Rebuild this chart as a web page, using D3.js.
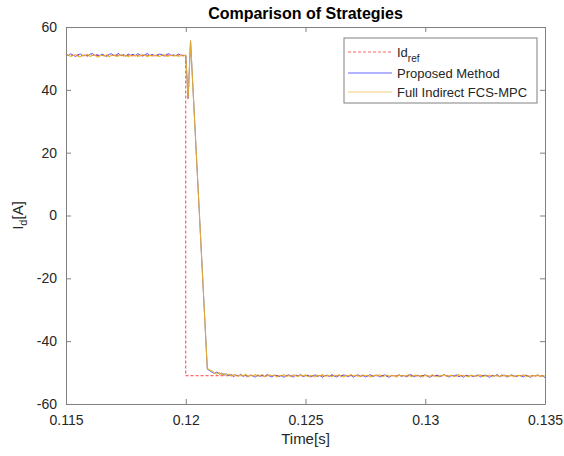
<!DOCTYPE html>
<html>
<head>
<meta charset="utf-8">
<script src="https://cdn.jsdelivr.net/npm/d3@7/dist/d3.min.js"></script>
<style>
  html, body { margin: 0; padding: 0; background: #fff; }
  svg { display: block; font-family: Arial, "Liberation Sans", Helvetica, sans-serif; }
</style>
</head>
<body>
<svg id="chart" width="564" height="456"></svg>
<script>
// d-axis current step response, sampled every 0.1 ms from 0.115 s to 0.135 s
const sampleStart = 0.115;
const samplePeriod = 0.0001;

// Reference current Id_ref (step from +51 A to -51 A at 0.12 s)
const refTime = [0.115, 0.12, 0.12, 0.135];
const refValue = [51, 51, -51, -51];

// Proposed method
const proposedId = [
  51.3, 50.9, 51.5, 51.0, 50.6, 51.2, 51.4, 50.8, 51.1, 50.7,
  51.3, 51.6, 50.9, 51.2, 50.8, 51.4, 51.0, 50.6, 51.3, 51.5,
  50.9, 51.1, 51.6, 50.8, 51.2, 50.7, 51.4, 51.0, 51.3, 50.8,
  51.5, 51.1, 50.7, 51.2, 51.6, 50.9, 51.3, 50.8, 51.0, 51.4,
  51.2, 50.7, 51.3, 51.5, 50.9, 51.1, 50.8, 51.4, 51.0, 50.9,
  51.0,
  37.2, 55.6, 40.7, 25.8, 10.9, -4.0, -18.9, -33.8, -48.9,
  -49.4, -49.9, -50.3, -49.8, -50.5, -50.2, -50.8, -50.4, -51.0, -50.6,
  -51.3, -50.7, -51.1, -50.5, -51.2, -50.9, -51.4, -50.8, -51.0, -51.5,
  -50.7, -51.2, -50.9, -51.3, -50.6, -51.1, -51.4, -50.8, -51.0, -51.3,
  -50.9, -51.5, -51.0, -50.7, -51.2, -51.4, -50.8, -51.1, -50.6, -51.3,
  -51.0, -50.8, -51.4, -51.1, -50.7, -51.2, -50.9, -51.5, -51.0, -50.8,
  -51.3, -50.6, -51.1, -51.4, -50.9, -51.2, -50.7, -51.0, -51.3, -50.8,
  -51.5, -51.0, -50.7, -51.2, -50.9, -51.4, -51.1, -50.6, -51.3, -51.0,
  -50.8, -51.4, -51.1, -50.7, -51.2, -51.5, -50.9, -51.0, -51.3, -50.7,
  -51.2, -50.9, -51.4, -51.0, -50.6, -51.3, -51.1, -50.8, -51.4, -51.0,
  -50.7, -51.2, -51.5, -50.9, -51.1, -50.8, -51.3, -51.0, -50.6, -51.2,
  -51.4, -50.9, -51.1, -50.7, -51.3, -51.0, -51.5, -50.8, -51.2, -50.9,
  -51.3, -51.1, -50.7, -51.4, -51.0, -50.8, -51.2, -51.5, -50.9, -51.1,
  -50.6, -51.3, -51.0, -50.8, -51.4, -51.2, -50.7, -51.1, -51.3, -50.9,
  -51.0, -51.4, -50.8, -51.2, -51.5, -50.9, -51.1, -50.7, -51.3, -51.0,
  -51.6
];

// Full indirect FCS-MPC
const fullIndirectId = [
  50.8, 51.1, 50.6, 50.9, 51.2, 50.7, 50.5, 51.0, 50.8, 51.3,
  50.6, 50.9, 51.1, 50.4, 50.8, 51.0, 50.7, 51.2, 50.5, 50.9,
  51.1, 50.6, 50.8, 51.2, 50.7, 51.0, 50.5, 50.9, 50.7, 51.1,
  50.6, 50.8, 51.2, 50.9, 50.5, 51.0, 50.7, 51.1, 50.8, 50.6,
  50.9, 51.2, 50.6, 50.8, 51.0, 50.7, 51.1, 50.6, 50.9, 50.8,
  51.0,
  37.2, 55.6, 40.7, 25.8, 10.9, -4.0, -18.9, -33.8, -48.7,
  -49.1, -49.6, -50.1, -50.5, -50.0, -50.7, -50.3, -50.9, -50.5, -51.1,
  -50.6, -50.9, -51.2, -50.7, -51.0, -50.5, -51.3, -50.8, -51.1, -50.6,
  -51.2, -50.9, -50.6, -51.3, -51.0, -50.7, -51.1, -50.8, -51.4, -50.9,
  -51.1, -50.6, -51.2, -50.9, -51.3, -50.7, -51.0, -51.2, -50.8, -51.1,
  -50.7, -51.3, -50.9, -51.0, -51.4, -50.8, -51.1, -50.6, -51.2, -50.9,
  -51.0, -51.3, -50.8, -51.1, -50.7, -51.2, -51.4, -50.9, -51.0, -50.6,
  -51.2, -50.8, -51.1, -51.3, -50.7, -51.0, -50.9, -51.4, -51.1, -50.8,
  -51.0, -50.7, -51.3, -51.1, -50.8, -51.2, -50.9, -51.0, -51.4, -50.7,
  -51.1, -50.9, -51.2, -50.6, -51.3, -51.0, -50.8, -51.1, -50.9, -51.4,
  -50.8, -51.0, -51.2, -50.7, -51.1, -51.3, -50.9, -51.0, -50.7, -51.2,
  -51.0, -50.8, -51.3, -51.1, -50.6, -51.2, -50.9, -51.1, -51.4, -50.8,
  -51.0, -51.2, -50.9, -50.7, -51.3, -51.0, -51.1, -50.8, -51.2, -51.0,
  -50.9, -51.3, -50.7, -51.1, -51.0, -51.2, -50.8, -51.3, -51.0, -50.9,
  -51.1, -50.7, -51.2, -51.0, -51.3, -50.9, -51.1, -50.8, -51.2, -51.0,
  -51.1
];

const xTicks = [0.115, 0.12, 0.125, 0.13, 0.135];
const yTicks = [-60, -40, -20, 0, 20, 40, 60];
const legendLabels = ["Id", "Proposed Method", "Full Indirect FCS-MPC"];

const colors = { ref: "#ff0000", proposed: "#0000ff", full: "#edb120" };

const svg = d3.select("#chart");
const plot = { left: 66, right: 545, top: 27, bottom: 404 };

const x = d3.scaleLinear().domain([0.115, 0.135]).range([plot.left, plot.right]);
const y = d3.scaleLinear().domain([-60, 60]).range([plot.bottom, plot.top]);

const timeAt = i => sampleStart + i * samplePeriod;

svg.append("defs").append("clipPath").attr("id", "plot-clip")
  .append("rect")
  .attr("x", plot.left).attr("y", plot.top)
  .attr("width", plot.right - plot.left).attr("height", plot.bottom - plot.top);

const textColor = "#262626";
const axisColor = "#808080";

// Axes with inward ticks on all four sides
const tickLen = 5;
const xAxisBottom = d3.axisBottom(x).tickValues(xTicks).tickSizeInner(-tickLen).tickSizeOuter(0)
  .tickFormat(d => String(+d.toFixed(3))).tickPadding(11);
const xAxisTop = d3.axisTop(x).tickValues(xTicks).tickSizeInner(-tickLen).tickSizeOuter(0).tickFormat("");
const yAxisLeft = d3.axisLeft(y).tickValues(yTicks).tickSizeInner(-tickLen).tickSizeOuter(0)
  .tickFormat(d => String(d)).tickPadding(9);
const yAxisRight = d3.axisRight(y).tickValues(yTicks).tickSizeInner(-tickLen).tickSizeOuter(0).tickFormat("");

function styleAxis(g) {
  g.select(".domain").attr("stroke", axisColor).attr("stroke-width", 1);
  g.selectAll(".tick line").attr("stroke", axisColor).attr("stroke-width", 1);
  g.selectAll(".tick text").attr("fill", textColor).style("font-size", "14px")
    .style("font-family", "Arial, 'Liberation Sans', sans-serif");
}

// Data lines
const lines = svg.append("g").attr("clip-path", "url(#plot-clip)");

const refLine = d3.line().x((d, i) => x(refTime[i])).y(d => y(d));
lines.append("path").datum(refValue)
  .attr("d", refLine)
  .attr("fill", "none").attr("stroke", colors.ref).attr("stroke-width", 0.9)
  .attr("stroke-dasharray", "3,2").attr("opacity", 0.85);

const sampleLine = d3.line().x((d, i) => x(timeAt(i))).y(d => y(d));
lines.append("path").datum(proposedId)
  .attr("d", sampleLine)
  .attr("fill", "none").attr("stroke", colors.proposed).attr("stroke-width", 0.8)
  .attr("opacity", 0.8).attr("stroke-linejoin", "round");
lines.append("path").datum(fullIndirectId)
  .attr("d", sampleLine)
  .attr("fill", "none").attr("stroke", colors.full).attr("stroke-width", 1.1)
  .attr("opacity", 0.9).attr("stroke-linejoin", "round");

svg.append("g").attr("transform", `translate(0,${plot.bottom})`).call(xAxisBottom).call(styleAxis);
svg.append("g").attr("transform", `translate(0,${plot.top})`).call(xAxisTop).call(styleAxis);
svg.append("g").attr("transform", `translate(${plot.left},0)`).call(yAxisLeft).call(styleAxis);
svg.append("g").attr("transform", `translate(${plot.right},0)`).call(yAxisRight).call(styleAxis);

// Title and axis labels
svg.append("text")
  .attr("x", (plot.left + plot.right) / 2).attr("y", 19)
  .attr("text-anchor", "middle").attr("fill", "#000")
  .style("font-size", "16px").style("font-weight", "bold")
  .text("Comparison of Strategies");

svg.append("text")
  .attr("x", (plot.left + plot.right) / 2).attr("y", 444)
  .attr("text-anchor", "middle").attr("fill", textColor)
  .style("font-size", "15px")
  .text("Time[s]");

const yLabel = svg.append("text")
  .attr("transform", `translate(23,${(plot.top + plot.bottom) / 2}) rotate(-90)`)
  .attr("text-anchor", "middle").attr("fill", textColor)
  .style("font-size", "15px");
yLabel.append("tspan").text("I");
yLabel.append("tspan").attr("dy", 4).style("font-size", "11px").text("d");
yLabel.append("tspan").attr("dy", -4).text("[A]");

// Legend
const legend = svg.append("g");
const lg = { x: 344, y: 38, w: 193, h: 65 };
legend.append("rect")
  .attr("x", lg.x).attr("y", lg.y).attr("width", lg.w).attr("height", lg.h)
  .attr("fill", "#fff").attr("stroke", axisColor).attr("stroke-width", 1);

const rows = [
  { key: "ref", label: legendLabels[0], cy: 52, dash: "3,2" },
  { key: "proposed", label: legendLabels[1], cy: 73, dash: null },
  { key: "full", label: legendLabels[2], cy: 92, dash: null }
];
rows.forEach(r => {
  legend.append("line")
    .attr("x1", lg.x + 4).attr("x2", lg.x + 48)
    .attr("y1", r.cy).attr("y2", r.cy)
    .attr("stroke", colors[r.key]).attr("stroke-width", 1)
    .attr("opacity", 0.6)
    .attr("stroke-dasharray", r.dash);
  const t = legend.append("text")
    .attr("x", lg.x + 53).attr("y", r.cy + 4.5)
    .attr("fill", textColor).style("font-size", "13px");
  t.append("tspan").text(r.label);
  if (r.key === "ref") {
    t.append("tspan").attr("dy", 5).style("font-size", "10px").text("ref");
  }
});
</script>
</body>
</html>
